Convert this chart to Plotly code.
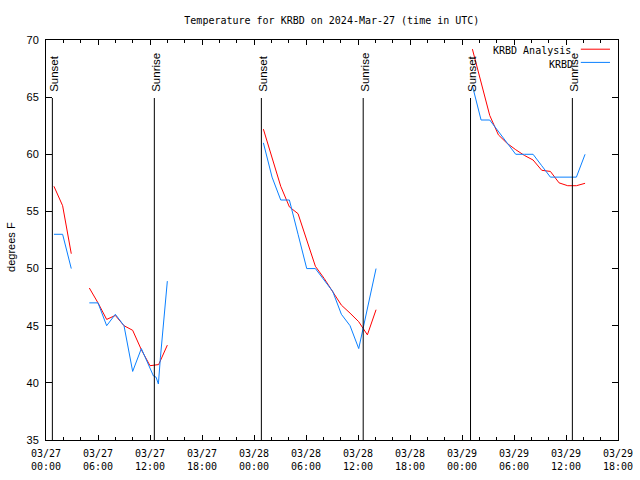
import plotly.graph_objects as go

# ---------------- data ----------------
analysis_t = [
    "2024-03-27 00:55", "2024-03-27 01:55", "2024-03-27 02:55", None,
    "2024-03-27 05:00", "2024-03-27 06:00", "2024-03-27 07:00", "2024-03-27 08:00",
    "2024-03-27 09:00", "2024-03-27 10:00", "2024-03-27 11:00", "2024-03-27 12:00",
    "2024-03-27 13:00", "2024-03-27 14:00", None,
    "2024-03-28 01:05", "2024-03-28 02:05", "2024-03-28 03:05", "2024-03-28 04:05",
    "2024-03-28 05:05", "2024-03-28 06:05", "2024-03-28 07:05", "2024-03-28 08:05",
    "2024-03-28 09:05", "2024-03-28 10:05", "2024-03-28 11:05", "2024-03-28 12:05",
    "2024-03-28 13:05", "2024-03-28 14:05", None,
    "2024-03-29 01:12", "2024-03-29 02:12", "2024-03-29 03:12", "2024-03-29 04:12",
    "2024-03-29 05:12", "2024-03-29 06:12", "2024-03-29 07:12", "2024-03-29 08:12",
    "2024-03-29 09:12", "2024-03-29 10:12", "2024-03-29 11:12", "2024-03-29 12:12",
    "2024-03-29 13:12", "2024-03-29 14:12",
]
analysis_v = [
    57.2, 55.5, 51.3, None,
    48.3, 47.0, 45.55, 45.9, 45.0, 44.6, 42.9, 41.5, 41.6, 43.3, None,
    62.2, 59.8, 57.2, 55.4, 54.8, 52.5, 50.2, 49.15, 48.0, 46.8, 46.1, 45.35, 44.2, 46.4, None,
    69.2, 66.4, 63.4, 61.7, 60.96, 60.4, 59.9, 59.5, 58.6, 58.5, 57.5, 57.25, 57.25, 57.46,
]

obs_t = [
    "2024-03-27 00:55", "2024-03-27 01:55", "2024-03-27 02:55", None,
    "2024-03-27 05:00", "2024-03-27 06:00", "2024-03-27 07:00", "2024-03-27 08:00",
    "2024-03-27 09:00", "2024-03-27 10:00", "2024-03-27 11:00", "2024-03-27 12:24",
    "2024-03-27 12:42", "2024-03-27 12:58", "2024-03-27 13:12", "2024-03-27 14:00", None,
    "2024-03-28 01:05", "2024-03-28 02:05", "2024-03-28 03:05", "2024-03-28 04:05",
    "2024-03-28 05:05", "2024-03-28 06:05", "2024-03-28 07:05", "2024-03-28 08:05",
    "2024-03-28 09:05", "2024-03-28 10:05", "2024-03-28 11:05", "2024-03-28 12:05",
    "2024-03-28 13:05", "2024-03-28 14:05", None,
    "2024-03-29 01:12", "2024-03-29 02:12", "2024-03-29 03:12", "2024-03-29 04:12",
    "2024-03-29 05:12", "2024-03-29 06:12", "2024-03-29 07:12", "2024-03-29 08:12",
    "2024-03-29 09:12", "2024-03-29 10:12", "2024-03-29 11:12", "2024-03-29 12:12",
    "2024-03-29 13:12", "2024-03-29 14:12",
]
obs_v = [
    53, 53, 50, None,
    47, 47, 45, 46, 45, 41, 43, 40.6, 40.5, 39.9, 42.2, 48.9, None,
    61, 58, 56, 56, 53, 50, 50, 49, 48, 46, 45, 43, 46.6, 50, None,
    66, 63, 63, 62, 61, 60, 60, 60, 59, 58, 58, 58, 58, 60,
]

sun_t = ["2024-03-27 00:44", "2024-03-27 12:30", "2024-03-28 00:51",
         "2024-03-28 12:36", "2024-03-29 00:59", "2024-03-29 12:44"]
sun_label = ["Sunset", "Sunrise", "Sunset", "Sunrise", "Sunset", "Sunrise"]

tick_vals = ["2024-03-27 00:00", "2024-03-27 06:00", "2024-03-27 12:00", "2024-03-27 18:00",
             "2024-03-28 00:00", "2024-03-28 06:00", "2024-03-28 12:00", "2024-03-28 18:00",
             "2024-03-29 00:00", "2024-03-29 06:00", "2024-03-29 12:00", "2024-03-29 18:00"]
tick_text = ["03/27<br>00:00", "03/27<br>06:00", "03/27<br>12:00", "03/27<br>18:00",
             "03/28<br>00:00", "03/28<br>06:00", "03/28<br>12:00", "03/28<br>18:00",
             "03/29<br>00:00", "03/29<br>06:00", "03/29<br>12:00", "03/29<br>18:00"]

RED = "#ff0000"
BLUE = "#0a80ff"
MONO = "DejaVu Sans Mono"
SANS = "Liberation Sans"

fig = go.Figure()
fig.add_trace(go.Scatter(x=analysis_t, y=analysis_v, mode="lines", name="KRBD Analysis",
                         line=dict(color=RED, width=1), connectgaps=False))
fig.add_trace(go.Scatter(x=obs_t, y=obs_v, mode="lines", name="KRBD",
                         line=dict(color=BLUE, width=1), connectgaps=False))

shapes = []
annotations = []
for t, lab in zip(sun_t, sun_label):
    shapes.append(dict(type="line", xref="x", yref="paper", x0=t, x1=t, y0=0, y1=0.855,
                       line=dict(color="black", width=1)))
    annotations.append(dict(x=t, xref="x", y=0.865, yref="paper", text=lab, textangle=-90,
                            showarrow=False, xanchor="center", yanchor="bottom", xshift=1,
                            font=dict(family=SANS, size=11.5, color="black")))

# manual legend (right-aligned text, sample line on right)
annotations.append(dict(x=0.922, y=0.973, xref="paper", yref="paper", text="KRBD Analysis",
                        showarrow=False, xanchor="right", yanchor="middle",
                        font=dict(family=MONO, size=10, color="black")))
annotations.append(dict(x=0.924, y=0.940, xref="paper", yref="paper", text="KRBD",
                        showarrow=False, xanchor="right", yanchor="middle",
                        font=dict(family=MONO, size=10, color="black")))
shapes.append(dict(type="line", xref="paper", yref="paper", x0=0.935, x1=0.986, y0=0.977, y1=0.977,
                   line=dict(color=RED, width=1)))
shapes.append(dict(type="line", xref="paper", yref="paper", x0=0.935, x1=0.986, y0=0.944, y1=0.944,
                   line=dict(color=BLUE, width=1)))

# y-axis title placed as rotated text left of the axis
annotations.append(dict(x=-0.061, y=0.483, xref="paper", yref="paper", text="degrees F",
                        textangle=-90, showarrow=False, xanchor="center", yanchor="middle",
                        font=dict(family=SANS, size=11, color="black")))

fig.update_layout(
    width=640, height=480,
    margin=dict(l=46, r=22, t=40, b=40, autoexpand=False),
    paper_bgcolor="white", plot_bgcolor="white",
    showlegend=False, hovermode=False,
    title=dict(text="Temperature for KRBD on 2024-Mar-27 (time in UTC)", x=0.5185, y=0.958,
               xanchor="center", yanchor="middle",
               font=dict(family=MONO, size=10, color="black")),
    shapes=shapes, annotations=annotations,
)
fig.update_xaxes(
    type="date", range=["2024-03-27 00:00", "2024-03-29 18:00"], automargin=False,
    tickmode="array", tickvals=tick_vals, ticktext=tick_text,
    ticks="inside", ticklen=5, tickcolor="black", tickwidth=1,
    minor=dict(tickmode="linear", tick0="2024-03-27 00:00", dtick=2 * 3600 * 1000,
               ticks="inside", ticklen=3, tickcolor="black", showgrid=False),
    showline=True, linecolor="black", linewidth=1, mirror="allticks",
    showgrid=False, zeroline=False, ticklabelstandoff=4,
    tickfont=dict(family=MONO, size=10, color="black"),
)
fig.update_yaxes(
    range=[35, 70], dtick=5, tick0=35, automargin=False,
    ticks="inside", ticklen=6, tickcolor="black", tickwidth=1,
    showline=True, linecolor="black", linewidth=1, mirror="allticks",
    showgrid=False, zeroline=False, ticklabelstandoff=4,
    tickfont=dict(family=SANS, size=11, color="black"),
)

fig.write_html("out.html", config={"displayModeBar": False, "staticPlot": True},
               post_script="document.body.style.margin='0';document.body.style.overflow='hidden';")
